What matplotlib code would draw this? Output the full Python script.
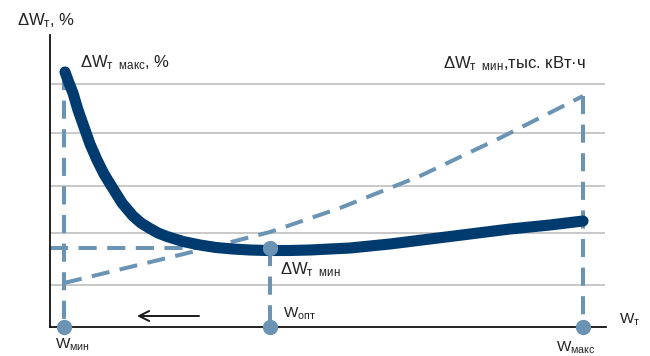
import matplotlib
matplotlib.use("Agg")
import matplotlib.pyplot as plt

plt.rcParams['font.family'] = ['Liberation Sans', 'DejaVu Sans']
plt.rcParams['mathtext.fontset'] = 'custom'
plt.rcParams['mathtext.rm'] = 'Liberation Sans'
plt.rcParams['mathtext.it'] = 'Liberation Sans:italic'
plt.rcParams['mathtext.bf'] = 'Liberation Sans:bold'

# Loss in percent vs. transformer energy W (conventional units)
w_pct = [1.5, 1.9, 2.3, 2.8, 3.4, 4.0, 4.7, 5.4, 6.2, 7.2, 8.3, 9.1, 10.0,
         10.8, 11.7, 13.3, 15.0, 16.6, 18.3, 20.0, 21.7, 24.0, 26.0, 28.0,
         30.0, 34.0, 38.0, 42.0, 46.0, 50.0, 53.3]
loss_pct = [25.5, 24.4, 23.4, 21.7, 20.0, 18.3, 16.7, 15.3, 14.0, 12.4, 11.1,
            10.4, 9.85, 9.4, 9.05, 8.55, 8.2, 7.95, 7.8, 7.7, 7.65, 7.65, 7.7,
            7.8, 7.9, 8.3, 8.8, 9.3, 9.8, 10.2, 10.6]

# Absolute loss, thousand kWh
w_abs = [1.4, 8.0, 15.0, 22.0, 29.0, 37.0, 45.0, 53.3]
loss_abs = [4.4, 6.0, 7.7, 9.5, 11.9, 15.1, 18.9, 23.1]

# Characteristic points
w_min, w_opt, w_max = 1.4, 22.0, 53.3
loss_min = 7.9
loss_max_pct = 25.5
loss_abs_end = 23.1

grid_levels = [4.2, 9.4, 14.1, 19.4, 24.3]

dark = '#003b70'
light = '#6a93b4'

fig = plt.figure(figsize=(6.5, 3.56), dpi=100)
ax = fig.add_axes([50 / 650, 29 / 356, 556 / 650, 292 / 356])
ax.set_xlim(0, 55.6)
ax.set_ylim(0, 29.2)

for s in ['top', 'right']:
    ax.spines[s].set_visible(False)
for s in ['left', 'bottom']:
    ax.spines[s].set_color('#111111')
    ax.spines[s].set_linewidth(1.3)
ax.set_xticks([])
ax.set_yticks([])

ax.hlines(grid_levels, 0, 55.5, color='#b9b9b9', lw=1.1, zorder=1)

dash = (0, (4.5, 2.6))
dkw = dict(color=light, lw=2.9, linestyle=dash, zorder=2, clip_on=False)

ax.plot(w_abs, loss_abs, **dkw)
ax.plot([w_min, w_min], [loss_max_pct, 0], **dkw)
ax.plot([w_opt, w_opt], [loss_min, 0], **dkw)
ax.plot([w_max, w_max], [loss_abs_end, 0], **dkw)
ax.plot([0, w_opt], [loss_min, loss_min], **dkw)

ax.plot(w_pct, loss_pct, color=dark, lw=8, solid_capstyle='round',
        solid_joinstyle='round', zorder=3)

ax.plot([w_min, w_opt, w_max, w_opt], [0, 0, 0, loss_min], 'o', ms=10,
        color=light, zorder=5, clip_on=False)

ax.annotate('', xy=(8.7, 1.1), xytext=(14.9, 1.1),
            arrowprops=dict(arrowstyle='->', color='#1a1a1a', lw=1.4,
                            mutation_scale=18, shrinkA=0, shrinkB=0))

fs_big = 12
fs = 11
tc = '#222222'
fig.text(17 / 650, 1 - 21 / 356, r'$\mathrm{ΔW}_{\mathrm{т}}$, %', fontsize=fs_big,
         color=tc, va='center', ha='left')
fig.text(80 / 650, 1 - 63 / 356, r'$\mathrm{ΔW}_{\mathrm{т\ \ макс}}$, %',
         fontsize=fs_big, color=tc, va='center', ha='left')
fig.text(443 / 650, 1 - 64 / 356, r'$\mathrm{ΔW}_{\mathrm{т\ \ мин}}$,тыс. кВт·ч',
         fontsize=fs_big, color=tc, va='center', ha='left')
fig.text(280 / 650, 1 - 270 / 356, r'$\mathrm{ΔW}_{\mathrm{т\ \ мин}}$',
         fontsize=fs_big, color=tc, va='center', ha='left')
fig.text(283 / 650, 1 - 314 / 356, r'$\mathrm{W}_{\mathrm{опт}}$', fontsize=fs,
         color=tc, va='center', ha='left')
fig.text(55 / 650, 1 - 345 / 356, r'$\mathrm{W}_{\mathrm{мин}}$', fontsize=fs,
         color=tc, va='center', ha='left')
fig.text(556 / 650, 1 - 348 / 356, r'$\mathrm{W}_{\mathrm{макс}}$', fontsize=fs,
         color=tc, va='center', ha='left')
fig.text(619 / 650, 1 - 320 / 356, r'$\mathrm{W}_{\mathrm{т}}$', fontsize=fs,
         color=tc, va='center', ha='left')

fig.savefig('out.png', dpi=100)
